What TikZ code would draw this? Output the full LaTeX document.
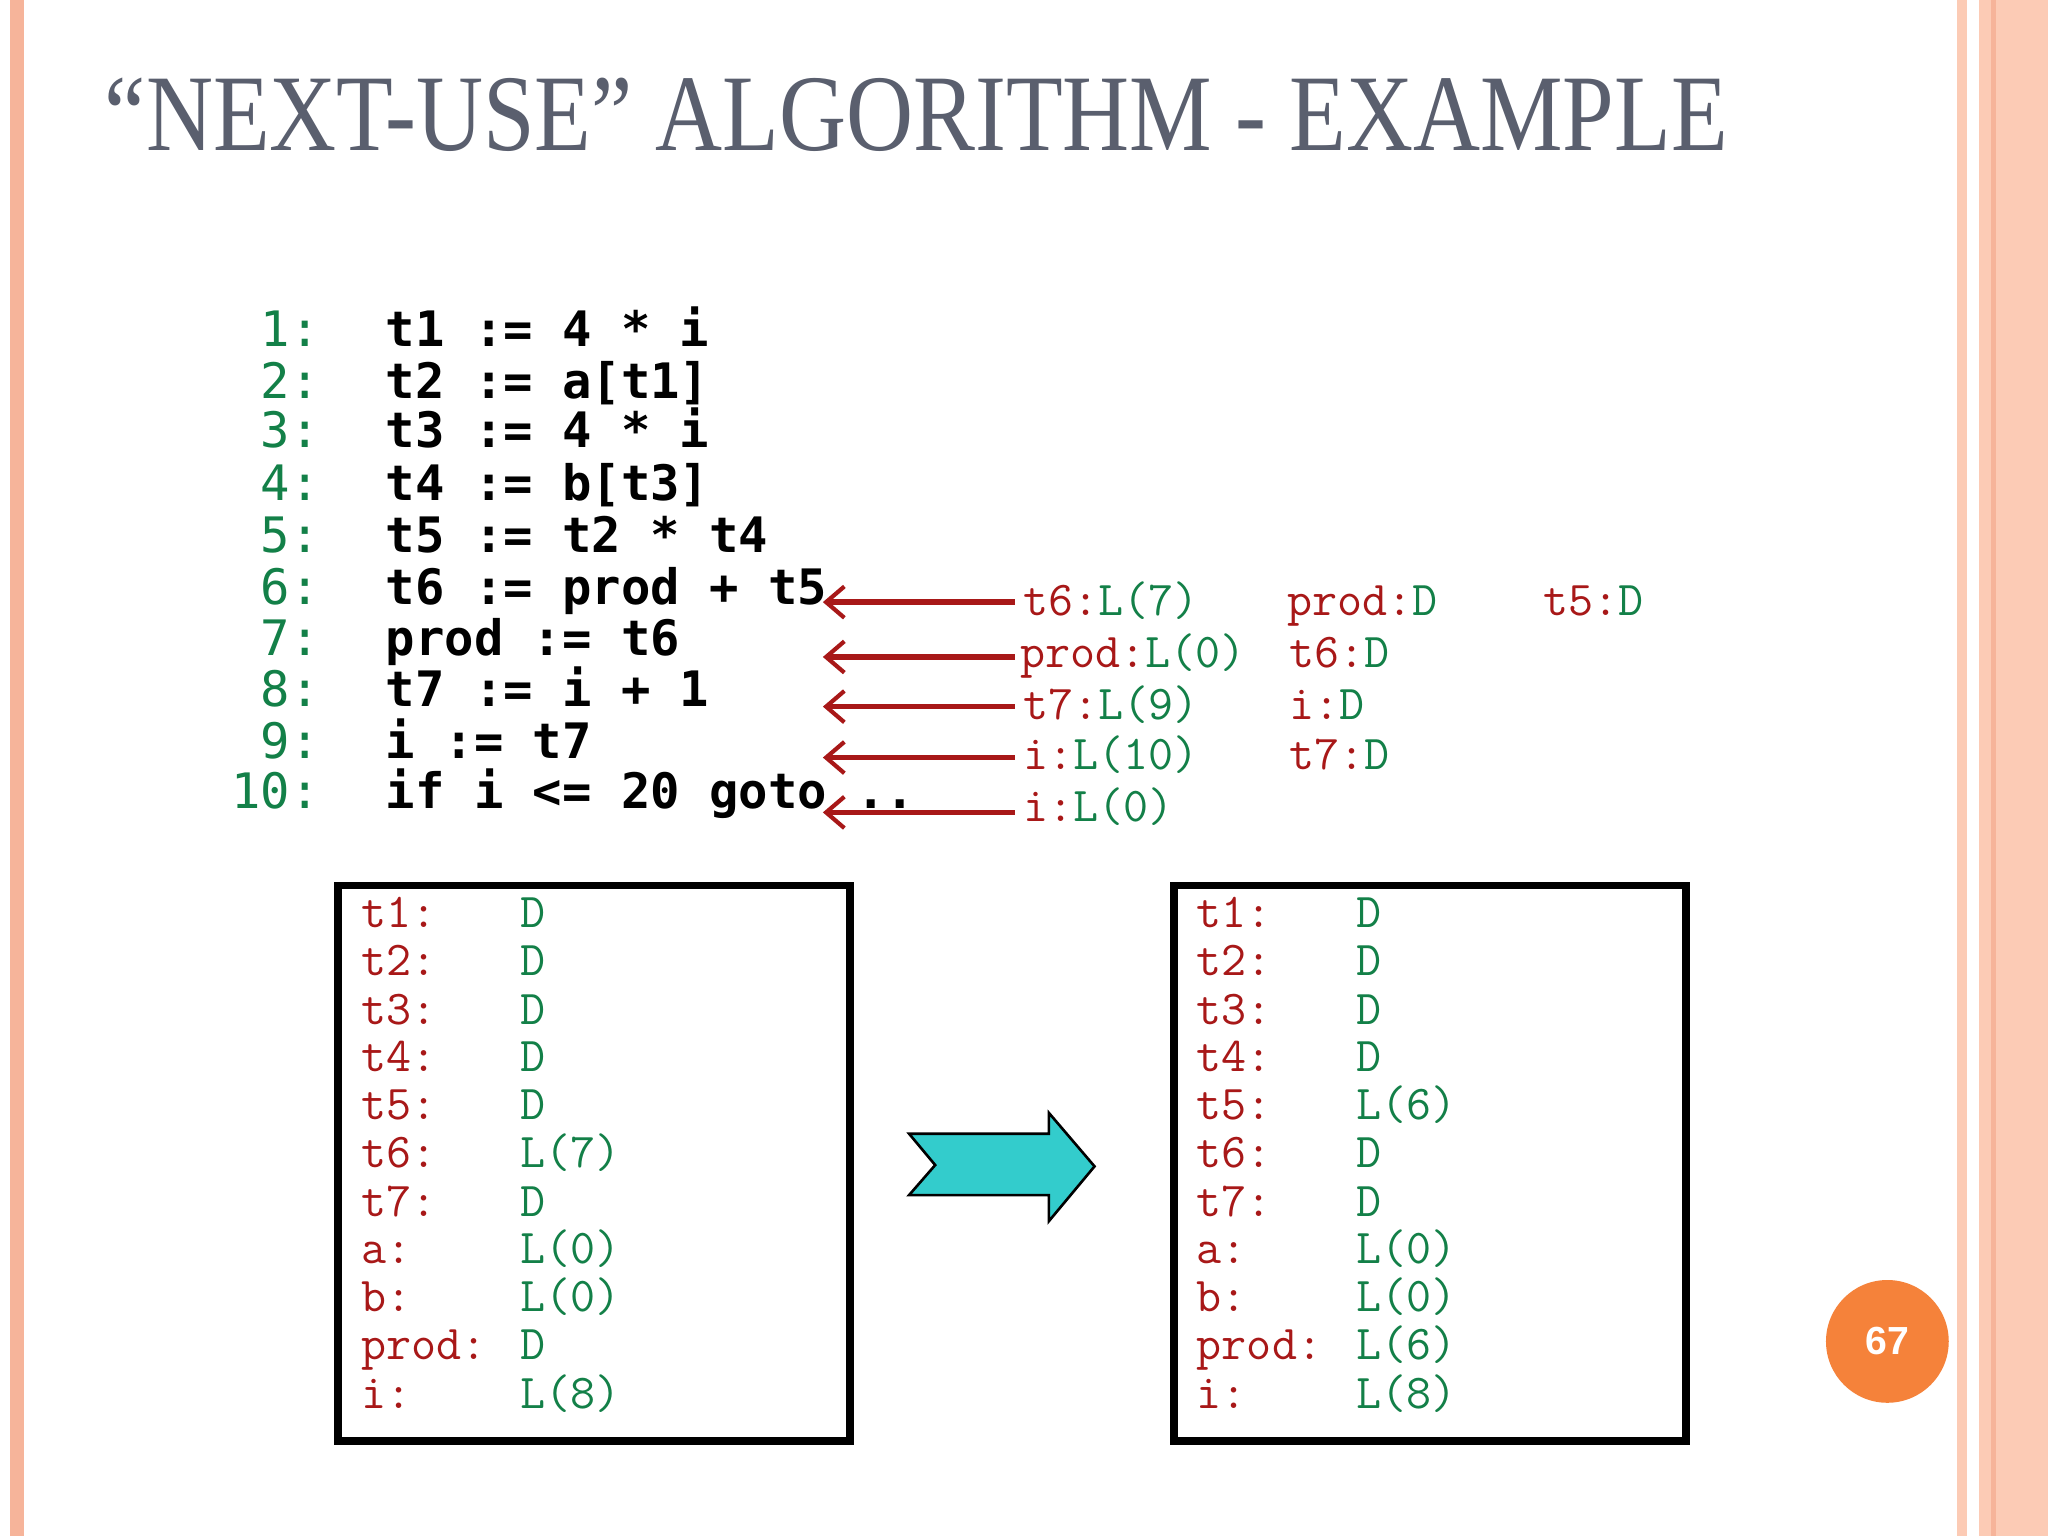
\documentclass[tikz,border=0pt]{standalone}
\usepackage{fontspec}
\setmainfont{Liberation Serif}
\newfontfamily\codefont{DejaVu Sans Mono}
\newfontfamily\annfont{Latin Modern Mono}
\newfontfamily\numfont{Liberation Sans}
\usetikzlibrary{arrows.meta}
\definecolor{rd}{HTML}{A81818}
\definecolor{gn}{HTML}{138048}
\definecolor{ttl}{HTML}{5A5F6E}
\definecolor{sal}{HTML}{F6B49A}
\definecolor{sal2}{HTML}{FCCBB5}
\definecolor{teal2}{HTML}{33CCCC}
\definecolor{pgor}{HTML}{F5823A}
\tikzset{
 code/.style={anchor=base west,inner sep=0,font=\codefont\bfseries\fontsize{18.7}{20}\selectfont},
 lnum/.style={anchor=base east,inner sep=0,text=gn,font=\codefont\fontsize{18.7}{20}\selectfont},
 ann/.style={anchor=base west,inner sep=0,font=\annfont\fontsize{18.6}{20}\selectfont},
 tbl/.style={anchor=base west,inner sep=0,font=\annfont\fontsize{18.6}{20}\selectfont},
 usearrow/.style={draw=rd,line width=2.2pt,-{Straight Barb[length=7pt,width=12pt,line width=1.6pt]}},
 tablebox/.style={draw=black,line width=3pt}
}
\begin{document}
\begin{tikzpicture}[x=0.5pt,y=-0.5pt]
\useasboundingbox (0,0) rectangle (1568,1176);
\fill[white] (0,0) rectangle (1568,1176);
% slide decorations
\fill[sal] (8,0) rectangle (18,1176);
\fill[sal2] (1498,0) rectangle (1506,1176);
\fill[sal2] (1515,0) rectangle (1568,1176);
\draw[sal,line width=2pt] (1526,0) -- (1526,1176);
% title
\node[anchor=base west,inner sep=0,text=ttl,xscale=0.852,font=\fontsize{41.7}{44}\selectfont] (title) at (80,115) {“NEXT-USE” ALGORITHM - EXAMPLE};
% code
\foreach \n/\y/\t in {1/255/{t1 := 4 * i},2/295/{t2 := a[t1]},3/333/{t3 := 4 * i},4/373/{t4 := b[t3]},5/413/{t5 := t2 * t4},6/453/{t6 := prod + t5},7/492/{prod := t6},8/531/{t7 := i + 1},9/571/{i := t7},10/609/{if i <= 20 goto ..}}{
  \node[lnum] (n\n) at (245,\y+10) {\n:};
  \node[code] (c\n) at (295,\y+10) {\obeyspaces\t};
}
% annotations
\foreach \k/\y in {a/461,b/503,c/541,d/580,e/622}{
  \coordinate (s\k) at (777,\y);
  \coordinate (e\k) at (630,\y);
  \draw[usearrow] (s\k) -- (e\k);
}
\node[ann] (a1) at (783,471) {\textcolor{rd}{t6:}\textcolor{gn}{L(7)}};
\node[ann] (a2) at (985,471) {\textcolor{rd}{prod:}\textcolor{gn}{D}};
\node[ann] (a3) at (1181,471) {\textcolor{rd}{t5:}\textcolor{gn}{D}};
\node[ann] (b1) at (781,511) {\textcolor{rd}{prod:}\textcolor{gn}{L(0)}};
\node[ann] (b2) at (987,511) {\textcolor{rd}{t6:}\textcolor{gn}{D}};
\node[ann] (c1) at (783,551) {\textcolor{rd}{t7:}\textcolor{gn}{L(9)}};
\node[ann] (c2) at (987,551) {\textcolor{rd}{i:}\textcolor{gn}{D}};
\node[ann] (d1) at (783,589) {\textcolor{rd}{i:}\textcolor{gn}{L(10)}};
\node[ann] (d2) at (987,589) {\textcolor{rd}{t7:}\textcolor{gn}{D}};
\node[ann] (e1) at (783,629) {\textcolor{rd}{i:}\textcolor{gn}{L(0)}};
% boxes
\node[tablebox,minimum width=196pt,minimum height=212.5pt,inner sep=0,anchor=north west] (boxL) at (256,675) {};
\node[tablebox,minimum width=196pt,minimum height=212.5pt,inner sep=0,anchor=north west] (boxR) at (896,675) {};
\foreach \i/\y/\l/\va/\vb in {1/702/t1:/D/D,2/739/t2:/D/D,3/776/t3:/D/D,4/812/t4:/D/D,5/849/t5:/D/L(6),6/886/t6:/L(7)/D,7/923/t7:/D/D,8/959/a:/L(0)/L(0),9/996/b:/L(0)/L(0),10/1033/prod:/D/L(6),11/1070/i:/L(8)/L(8)}{
  \node[tbl,text=rd] (ll\i) at (276,\y+8) {\l};
  \node[tbl,text=gn] (lv\i) at (398,\y+8) {\va};
  \node[tbl,text=rd] (rl\i) at (916,\y+8) {\l};
  \node[tbl,text=gn] (rv\i) at (1038,\y+8) {\vb};
}
% big arrow
\draw[fill=teal2,draw=black,line width=1pt] (696,868) -- (803,868) -- (803,852) -- (838,893) -- (803,935) -- (803,915) -- (696,915) -- (716,892) -- cycle;
% page number
\node[circle,fill=pgor,minimum size=47pt,inner sep=0,text=white,font=\numfont\bfseries\fontsize{15}{17}\selectfont] (pg) at (1445,1027) {67};
\end{tikzpicture}
\end{document}
